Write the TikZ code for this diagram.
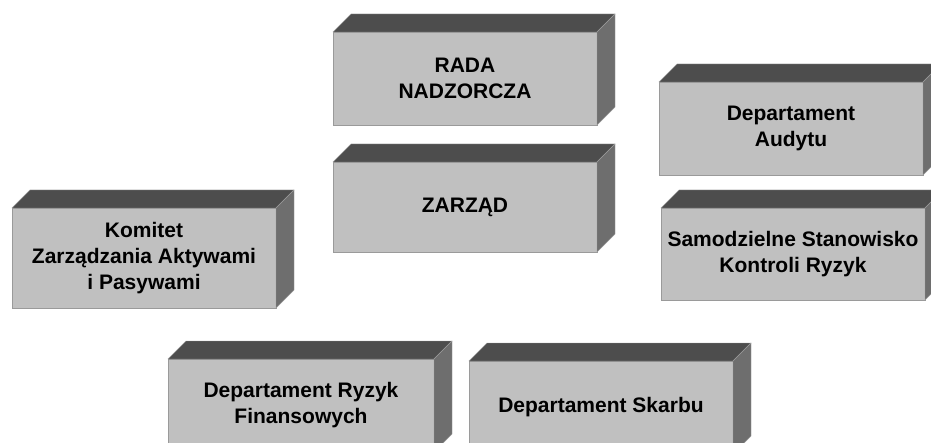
\documentclass[tikz,border=0pt]{standalone}
\usepackage{fontspec}
\setmainfont{Liberation Sans}
\usetikzlibrary{positioning}
\definecolor{frontgray}{HTML}{C0C0C0}
\definecolor{topgray}{HTML}{4D4D4D}
\definecolor{sidegray}{HTML}{6E6E6E}
\definecolor{edgegray}{HTML}{9A9A9A}
\begin{document}
\begin{tikzpicture}[x=1pt,y=1pt,
	block/.style={rectangle,draw=edgegray,line width=0.8pt,fill=frontgray,
		minimum width=264pt,minimum height=93pt,inner sep=0pt,outer sep=0pt,
		align=center,font=\fontsize{21}{26}\selectfont\bfseries},
	topface/.style={fill=topgray,draw=edgegray,line width=0.4pt},
	sideface/.style={fill=sidegray,draw=edgegray,line width=0.4pt}]
	\clip (0,0) rectangle (931,-443);
	\node[block] (rada) at (465,-78.5) {RADA\\NADZORCZA};
	\node[block,minimum height=90pt] (zarzad) [below=37pt of rada] {ZARZĄD};
	\node[block,minimum height=100pt] (komitet) at (144,-258) {Komitet\\Zarządzania Aktywami\\i Pasywami};
	\node[block] (audyt) at (791,-128.5) {Departament\\Audytu};
	\node[block,minimum height=92pt] (kontrola) [below=33pt of audyt.south east,anchor=north east,xshift=2pt] {Samodzielne Stanowisko\\Kontroli Ryzyk};
	\node[block,minimum width=266pt] (ryzyk) at (301,-405.5) {Departament Ryzyk\\Finansowych};
	\node[block] (skarb) [right=35pt of ryzyk,yshift=-2pt] {Departament Skarbu};
	% top and side faces of the boxes
	\foreach \n in {rada,zarzad,komitet,audyt,kontrola,ryzyk,skarb}{
		\draw[topface] (\n.north west) -- ++(18,18) -- ([shift={(18,18)}]\n.north east) -- (\n.north east) -- cycle;
		\draw[sideface] (\n.north east) -- ++(18,18) -- ([shift={(18,18)}]\n.south east) -- (\n.south east) -- cycle;
	}
\end{tikzpicture}
\end{document}
